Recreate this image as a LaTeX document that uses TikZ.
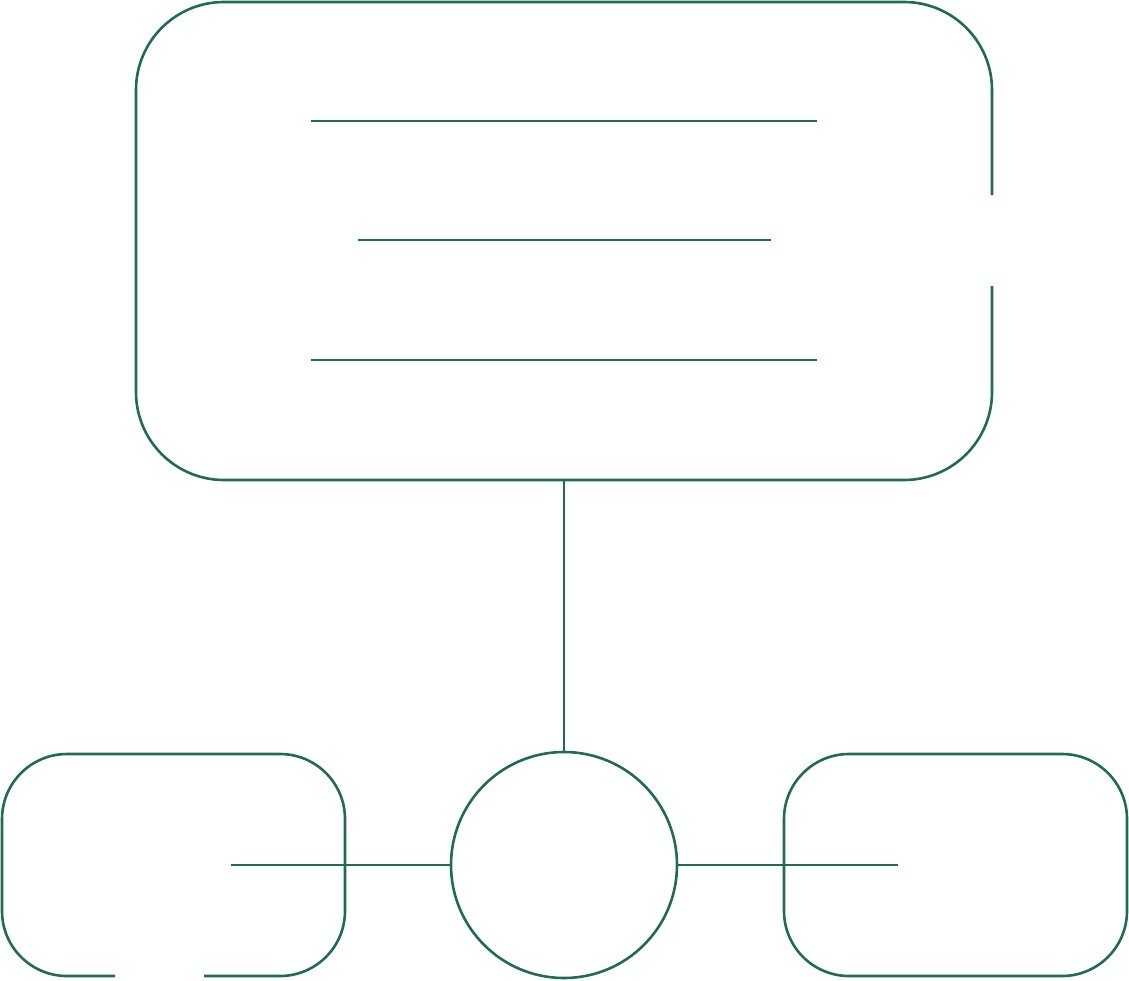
\documentclass[tikz,border=0pt]{standalone}
\definecolor{ink}{RGB}{30,108,86}
\tikzset{
  stroke/.style={draw=ink, line width=2.6pt, line cap=butt},
  hub/.style={circle, draw=ink, line width=2.6pt, minimum size=226pt, inner sep=0pt},
}
\begin{document}
\begin{tikzpicture}[x=1pt,y=-1pt]
\useasboundingbox (0,0) rectangle (1129,980);
% big top box with a gap on the right side
\draw[stroke] (992,195) -- (992,90) arc[start angle=0,end angle=-90,radius=88] -- (224,2)
  arc[start angle=-90,end angle=-180,radius=88] -- (136,392)
  arc[start angle=180,end angle=90,radius=88] -- (904,480)
  arc[start angle=90,end angle=0,radius=88] -- (992,286);
\coordinate (topbottom) at (564,480);
% text lines
\draw[stroke] (311,121) -- (817,121);
\draw[stroke] (358,240) -- (771,240);
\draw[stroke] (311,360) -- (817,360);
% hub circle
\node[hub] (hub) at (564,865) {};
\draw[stroke] (topbottom) -- (hub.north);
% left box with gap at the bottom
\draw[stroke] (115,976) -- (67,976) arc[start angle=90,end angle=180,radius=65] -- (2,819)
  arc[start angle=180,end angle=270,radius=65] -- (280,754)
  arc[start angle=-90,end angle=0,radius=65] -- (345,911)
  arc[start angle=0,end angle=90,radius=65] -- (204,976);
\coordinate (lend) at (231,865);
\draw[stroke] (hub.west) -- (lend);
% right box
\draw[stroke] (849,754) -- (1062,754) arc[start angle=-90,end angle=0,radius=65] -- (1127,911)
  arc[start angle=0,end angle=90,radius=65] -- (849,976)
  arc[start angle=90,end angle=180,radius=65] -- (784,819)
  arc[start angle=180,end angle=270,radius=65];
\coordinate (rend) at (898,865);
\draw[stroke] (hub.east) -- (rend);
\end{tikzpicture}
\end{document}
